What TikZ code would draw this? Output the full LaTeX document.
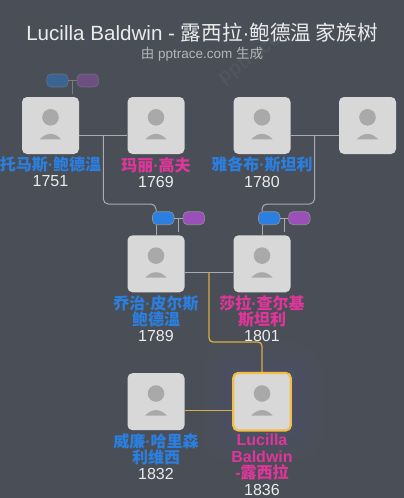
\documentclass[tikz,border=0pt]{standalone}
\usepackage{fontspec}
\setmainfont{Liberation Sans}
\newfontfamily\cjk{Noto Sans CJK SC}
\newcommand{\dt}{{\fontspec{Liberation Sans}·}}
\definecolor{bgc}{HTML}{4A4F57}
\definecolor{boxc}{HTML}{D8D8D8}
\definecolor{iconc}{HTML}{A9A9A9}
\definecolor{malec}{HTML}{2A7FE0}
\definecolor{femalec}{HTML}{E0359A}
\definecolor{pillb}{HTML}{2A7FE0}
\definecolor{pillp}{HTML}{9A50B8}
\definecolor{goldc}{HTML}{D9AE45}
\definecolor{focusc}{HTML}{F2BE45}
\definecolor{linec}{HTML}{A8ABB0}
\definecolor{glowc}{HTML}{4A78C8}
\tikzset{
  x=1pt,y=-1pt,
  personbox/.style={draw=none,fill=boxc,rounded corners=5pt,minimum width=57pt,minimum height=57pt,inner sep=0pt},
  focusbox/.style={personbox,draw=focusc,line width=2.2pt,minimum width=57.5pt,minimum height=57.5pt},
  pill/.style={rounded corners=4.5pt,minimum width=21.5pt,minimum height=13pt,inner sep=0pt,draw=linec!70!bgc,line width=.6pt},
  bluepill/.style={pill,fill=pillb},
  purplepill/.style={pill,fill=pillp},
  link/.style={draw=linec,line width=1pt},
  goldlink/.style={draw=goldc,line width=1.3pt,rounded corners=4pt},
  namelab/.style={font=\fontsize{16}{16}\selectfont\bfseries\cjk,align=center,inner sep=0pt,anchor=center},
  yearlab/.style={font=\fontsize{16}{16}\selectfont,text=white!92!black,inner sep=0pt,anchor=center},
}
\newcommand{\personicon}[1]{%
  \fill[iconc] ([yshift=8.2pt]#1.center) circle[radius=8.3pt];
  \fill[iconc] ([xshift=-10.7pt,yshift=-13.8pt]#1.center) .. controls ([xshift=-4pt,yshift=-6.6pt]#1.center) and ([xshift=4pt,yshift=-6.6pt]#1.center) .. ([xshift=10.7pt,yshift=-13.8pt]#1.center) -- cycle;
}
\begin{document}
\begin{tikzpicture}
\useasboundingbox (0,0) rectangle (404,498);
\fill[bgc] (0,0) rectangle (404,498);
\node[rotate=36,text=white,opacity=.04,font=\fontsize{20}{20}\selectfont\bfseries] (wm) at (250,60) {pptrace};
% glow
\foreach \g in {30,27,...,3}{
  \fill[glowc,opacity=.012,rounded corners=\g pt] (232-\g,372-\g) rectangle (292+\g,432+\g);
}
% title
\node[text=white!92!black,font=\fontsize{20.6}{21}\selectfont,inner sep=0pt] (title) at (202,33) {Lucilla Baldwin - {\cjk 露西拉}·{\cjk 鲍德温 家族树}};
\node[text=white!58!bgc,font=\fontsize{13.5}{14}\selectfont,inner sep=0pt] (sub) at (202,54.5) {{\cjk 由} pptrace.com {\cjk 生成}};
% persons
\node[personbox] (p1) at (50.5,125.5) {};
\node[personbox] (p2) at (156,125.5) {};
\node[personbox] (p3) at (262,125.5) {};
\node[personbox] (p4) at (367.5,125.5) {};
\node[personbox] (p5) at (156,263.8) {};
\node[personbox] (p6) at (262,263.8) {};
\node[personbox] (p7) at (156,401.7) {};
\node[focusbox] (p8) at (262,401.7) {};
\foreach \p in {p1,p2,p3,p4,p5,p6,p7,p8}{\personicon{\p}}
% junctions
\coordinate (j12) at (103.3,135);
\coordinate (j34) at (314.5,135);
\coordinate (j56) at (209,272.7);
\coordinate (j78) at (209,410.7);
% pills
\node[bluepill,opacity=.45] (b1) at (57.4,80.5) {};
\node[purplepill,opacity=.45] (c1) at (87.8,80.5) {};
\node[bluepill] (b5) at (163.2,218.2) {};
\node[purplepill] (c5) at (193.8,218.2) {};
\node[bluepill] (b6) at (269.2,218.2) {};
\node[purplepill] (c6) at (299.3,218.2) {};
\coordinate (t1) at (72.5,94);
\coordinate (t5) at (178.4,232);
\coordinate (t6) at (284,232);
\coordinate (m1) at (72.5,80.5);
\coordinate (m5) at (178.4,218.2);
\coordinate (m6) at (284,218.2);
% links
\draw[link,opacity=.5] (b1) -- (c1) (m1) -- (t1);
\draw[link] (b5) -- (c5) (m5) -- (t5);
\draw[link] (b6) -- (c6) (m6) -- (t6);
\draw[link] (p1.east |- j12) -- (p2.west |- j12);
\draw[link] (p3.east |- j34) -- (p4.west |- j34);
\draw[link] (p5.east |- j56) -- (p6.west |- j56);
\draw[link,rounded corners=5pt] (j12) -- (j12 |- 0,204) -- (156,204) -- (156,211.7);
\draw[link] (156,224.7) -- (p5.north);
\draw[link,rounded corners=5pt] (j34) -- (j34 |- 0,204) -- (262,204) -- (262,211.7);
\draw[link] (262,224.7) -- (p6.north);
\draw[goldlink] (j56) -- (209,342) -- (262,342) -- (p8.north);
\draw[goldlink] (p7.east |- j78) -- (p8.west |- j78);
% labels
\node[namelab,text=malec] (n1) at (50.5,165) {托马斯\dt 鲍德温};
\node[yearlab] (y1) at (50.5,181.5) {1751};
\node[namelab,text=femalec] (n2) at (156,165) {玛丽\dt 高夫};
\node[yearlab] (y2) at (156,181.5) {1769};
\node[namelab,text=malec] (n3) at (262,165) {雅各布\dt 斯坦利};
\node[yearlab] (y3) at (262,181.5) {1780};
\node[namelab,text=malec] (n5) at (156,311) {乔治\dt 皮尔斯\\鲍德温};
\node[yearlab] (y5) at (156,335.7) {1789};
\node[namelab,text=femalec] (n6) at (262,311) {莎拉\dt 查尔基\\斯坦利};
\node[yearlab] (y6) at (262,335.7) {1801};
\node[namelab,text=malec] (n7) at (156,449) {威廉\dt 哈里森\\利维西};
\node[yearlab] (y7) at (156,473.5) {1832};
\node[namelab,text=femalec,font=\fontsize{16}{16.2}\selectfont\bfseries] (n8) at (262,457) {Lucilla\\Baldwin\\-{\cjk 露西拉}};
\node[yearlab] (y8) at (262,489.5) {1836};
\end{tikzpicture}
\end{document}
